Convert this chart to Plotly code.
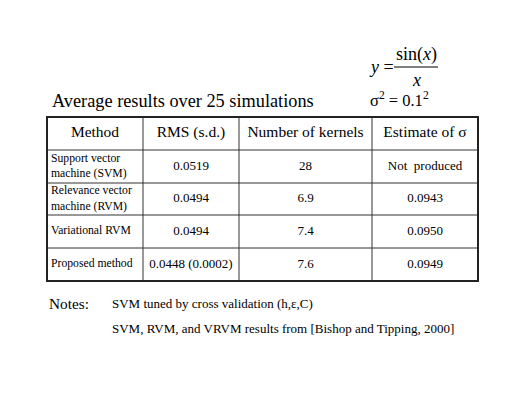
import plotly.graph_objects as go

# table contents
header = ["Method", "RMS (s.d.)", "Number of kernels", "Estimate of σ"]
methods = [
    "Support vector<br>machine (SVM)",
    "Relevance vector<br>machine (RVM)",
    "Variational RVM",
    "Proposed method",
]
rms = ["0.0519", "0.0494", "0.0494", "0.0448 (0.0002)"]
kernels = ["28", "6.9", "7.4", "7.6"]
sigma_est = ["Not  produced", "0.0943", "0.0950", "0.0949"]

title = "Average results over 25 simulations"
notes = [
    "SVM tuned by cross validation (h,ε,C)",
    "SVM, RVM, and VRVM results from [Bishop and Tipping, 2000]",
]

serif = "Liberation Serif, Times New Roman, serif"

# grid of the table, in slide pixels (axes are set up 1:1 with the slide)
col_edges = [47, 143, 239, 372, 478]
row_edges = [117, 150, 183, 215, 248, 281]

col_mid = [(a + b) / 2 for a, b in zip(col_edges[:-1], col_edges[1:])]
row_mid = [(a + b) / 2 for a, b in zip(row_edges[:-1], row_edges[1:])]
body_mid = row_mid[1:]

fig = go.Figure()

# header row
fig.add_trace(go.Scatter(
    x=col_mid, y=[row_mid[0]] * len(header), text=header,
    mode="text", textposition="middle center",
    textfont=dict(family=serif, size=15.5, color="black"),
    hoverinfo="skip", showlegend=False,
))

# method names, left aligned
fig.add_trace(go.Scatter(
    x=[col_edges[0] + 4] * len(methods), y=body_mid, text=methods,
    mode="text", textposition="middle right",
    textfont=dict(family=serif, size=11.7, color="black"),
    hoverinfo="skip", showlegend=False,
))

# numeric columns
for i, col in enumerate([rms, kernels, sigma_est], start=1):
    fig.add_trace(go.Scatter(
        x=[col_mid[i]] * len(col), y=body_mid, text=col,
        mode="text", textposition="middle center",
        textfont=dict(family=serif, size=13, color="black"),
        hoverinfo="skip", showlegend=False,
    ))

# inner grid lines
for x in col_edges[1:-1]:
    fig.add_shape(type="line", x0=x, x1=x, y0=row_edges[0], y1=row_edges[-1],
                  line=dict(color="#333", width=1))
for y in row_edges[1:-1]:
    fig.add_shape(type="line", x0=col_edges[0], x1=col_edges[-1], y0=y, y1=y,
                  line=dict(color="#333", width=1))
# outer frame
fig.add_shape(type="rect", x0=col_edges[0], x1=col_edges[-1],
              y0=row_edges[0], y1=row_edges[-1],
              line=dict(color="#222", width=2))


def note(text, x, y, size, anchor="left"):
    fig.add_annotation(text=text, x=x, y=y, showarrow=False,
                       xanchor=anchor, yanchor="middle",
                       font=dict(family=serif, size=size, color="black"))


note(title, 50, 101, 18.3)

# y = sin(x)/x and noise level
note("<i>y</i> =", 367, 67, 18)
note("sin(<i>x</i>)", 416, 54, 18, "center")
note("<i>x</i>", 416, 80, 18, "center")
fig.add_shape(type="line", x0=394, x1=438, y0=67, y1=67,
              line=dict(color="black", width=1))
note("σ<sup>2</sup> = 0.1<sup>2</sup>", 368, 99, 16.5)

note("Notes:", 47, 303, 15.3)
note(notes[0], 110, 303, 13)
note(notes[1], 110, 328, 13)

# page body has an 8px margin, so the figure covers slide pixels 8..509 / 8..392
fig.update_layout(
    width=501, height=384,
    margin=dict(l=0, r=0, t=0, b=0),
    paper_bgcolor="white",
    plot_bgcolor="white",
    xaxis=dict(range=[8, 509], visible=False, fixedrange=True),
    yaxis=dict(range=[392, 8], visible=False, fixedrange=True),
)

fig.write_html("out.html")
